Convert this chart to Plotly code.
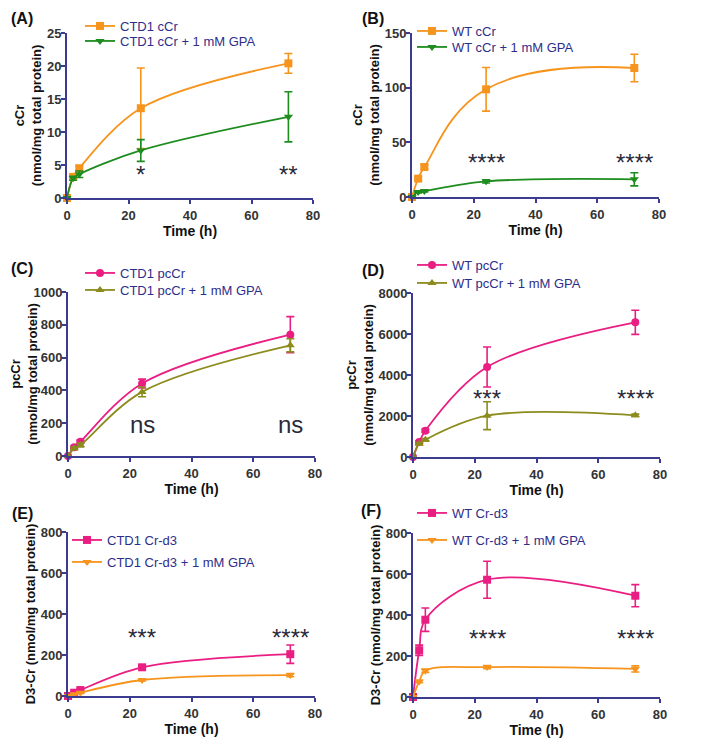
import plotly.graph_objects as go

# ---------------- data ----------------
time = [0, 2, 4, 24, 72]

# (A) CTD1 cCr
a_ctrl = [0, 3.2, 4.5, 13.6, 20.4]
a_ctrl_err = [0, 0.3, 0.4, 6.1, 1.5]
a_gpa = [0, 3.0, 3.6, 7.2, 12.3]
a_gpa_err = [0, 0.3, 0.5, 1.65, 3.8]

# (B) WT cCr
b_ctrl = [0, 16.8, 27.4, 98.5, 118]
b_ctrl_err = [0, 1.5, 2.0, 20, 12.6]
b_gpa = [0, 4.6, 5.5, 14.3, 16.2]
b_gpa_err = [0, 0.8, 0.8, 1.5, 6.0]

# (C) CTD1 pcCr
c_ctrl = [0, 53, 87, 442, 740]
c_ctrl_err = [0, 8, 10, 27, 110]
c_gpa = [0, 47, 67, 391, 675]
c_gpa_err = [0, 8, 12, 30, 40]

# (D) WT pcCr
d_ctrl = [0, 732, 1285, 4390, 6570]
d_ctrl_err = [0, 60, 80, 975, 590]
d_gpa = [0, 650, 846, 2016, 2033]
d_gpa_err = [0, 50, 60, 680, 60]

# (E) CTD1 Cr-d3
e_ctrl = [0, 16, 29, 140, 204]
e_ctrl_err = [0, 3, 4, 8, 45]
e_gpa = [0, 8, 16, 78, 102]
e_gpa_err = [0, 2, 3, 5, 8]

# (F) WT Cr-d3
f_ctrl = [0, 228, 377, 572, 494]
f_ctrl_err = [0, 25, 57, 90, 54]
f_gpa = [0, 76, 128, 146, 137]
f_gpa_err = [0, 6, 8, 8, 15]

# significance labels: (panel, x, y, text)
sig_labels = [
    ("A", 24, 3.6, "*"), ("A", 72, 3.6, "**"),
    ("B", 24, 32, "****"), ("B", 72, 32, "****"),
    ("C", 24, 193, "ns"), ("C", 72, 193, "ns"),
    ("D", 24, 2850, "***"), ("D", 72, 2850, "****"),
    ("E", 24, 284, "***"), ("E", 72, 284, "****"),
    ("F", 24, 284, "****"), ("F", 72, 284, "****"),
]

# ---------------- style ----------------
OFF = 8                      # page body margin
W, H = 709 - OFF, 741 - OFF
ORANGE = "#F7941D"
GREEN = "#1E8C1E"
PINK = "#EA1E82"
OLIVE = "#8C8C1E"
AXIS = "#3B3B8F"
LEG_TXT = "#2E2E8A"
TICK_TXT = "#333333"
FONT = "Liberation Sans, Arial, sans-serif"

panels = [
    dict(key="A", c=a_ctrl, ce=a_ctrl_err, g=a_gpa, ge=a_gpa_err,
         names=("CTD1 cCr", "CTD1 cCr + 1 mM GPA"), cols=(ORANGE, GREEN),
         syms=("square", "triangle-down"), yr=25, dt=5, sm=(1.0, 1.0),
         box=(67, 313, 33, 198), yt="cCr<br>(nmol/mg total protein)",
         lab=(22, 8), legx=80, legy=(26, 41)),
    dict(key="B", c=b_ctrl, ce=b_ctrl_err, g=b_gpa, ge=b_gpa_err,
         names=("WT cCr", "WT cCr + 1 mM GPA"), cols=(ORANGE, GREEN),
         syms=("square", "triangle-down"), yr=150, dt=50, sm=(1.3, 1.0),
         box=(412, 659, 33, 197), yt="cCr<br>(nmol/mg total protein)",
         lab=(373, 8), legx=412, legy=(31, 47)),
    dict(key="C", c=c_ctrl, ce=c_ctrl_err, g=c_gpa, ge=c_gpa_err,
         names=("CTD1 pcCr", "CTD1 pcCr + 1 mM GPA"), cols=(PINK, OLIVE),
         syms=("circle", "triangle-up"), yr=1000, dt=200, sm=(1.0, 1.0),
         box=(68, 315, 292, 456), yt="pcCr<br>(nmol/mg total protein)",
         lab=(22, 258), legx=80, legy=(273, 290)),
    dict(key="D", c=d_ctrl, ce=d_ctrl_err, g=d_gpa, ge=d_gpa_err,
         names=("WT pcCr", "WT pcCr + 1 mM GPA"), cols=(PINK, OLIVE),
         syms=("circle", "triangle-up"), yr=8000, dt=2000, sm=(1.0, 1.0),
         box=(413, 660, 293, 457), yt="pcCr<br>(nmol/mg total protein)",
         lab=(373, 260), legx=412, legy=(265, 283)),
    dict(key="E", c=e_ctrl, ce=e_ctrl_err, g=e_gpa, ge=e_gpa_err,
         names=("CTD1 Cr-d3", "CTD1 Cr-d3 + 1 mM GPA"), cols=(PINK, ORANGE),
         syms=("square", "triangle-down"), yr=800, dt=200, sm=(1.0, 1.0),
         box=(68, 315, 532, 696), yt="D3-Cr (nmol/mg total protein)",
         lab=(22, 503), legx=67, legy=(540, 562)),
    dict(key="F", c=f_ctrl, ce=f_ctrl_err, g=f_gpa, ge=f_gpa_err,
         names=("WT Cr-d3", "WT Cr-d3 + 1 mM GPA"), cols=(PINK, ORANGE),
         syms=("square", "triangle-down"), yr=800, dt=200, sm=(1.0, 1.0),
         box=(413, 660, 533, 697), yt="D3-Cr (nmol/mg total protein)",
         lab=(371, 500), legx=412, legy=(513, 540)),
]

fig = go.Figure()
layout = dict(width=W, height=H, margin=dict(l=0, r=0, t=0, b=0, autoexpand=False),
              plot_bgcolor="white", paper_bgcolor="white",
              font=dict(family=FONT), showlegend=True)
annotations = []


def px(x):
    return (x - OFF) / W


def py(y):
    return 1 - (y - OFF) / H


leg_count = 0
for i, p in enumerate(panels):
    n = i + 1
    xa = "x" if n == 1 else f"x{n}"
    ya = "y" if n == 1 else f"y{n}"
    x0, x1, yt, yb = p["box"]
    for j, (vals, errs, name, col, sym) in enumerate([
        (p["c"], p["ce"], p["names"][0], p["cols"][0], p["syms"][0]),
        (p["g"], p["ge"], p["names"][1], p["cols"][1], p["syms"][1]),
    ]):
        leg_count += 1
        lg = "legend" if leg_count == 1 else f"legend{leg_count}"
        fig.add_trace(go.Scatter(
            x=time, y=vals, name=name, mode="lines+markers",
            xaxis=xa, yaxis=ya, legend=lg, cliponaxis=False,
            line=dict(color=col, width=1.8, shape="spline", smoothing=p["sm"][j]),
            marker=dict(symbol=sym, size=8, color=col),
            error_y=dict(type="data", array=errs, color=col, thickness=1.6, width=4),
        ))
        layout[lg] = dict(
            x=px(p["legx"]), y=py(p["legy"][j]), xanchor="left", yanchor="middle",
            bgcolor="rgba(0,0,0,0)", borderwidth=0, itemwidth=30,
            font=dict(family=FONT, size=13, color=LEG_TXT),
        )
    axkey_x = "xaxis" if n == 1 else f"xaxis{n}"
    axkey_y = "yaxis" if n == 1 else f"yaxis{n}"
    layout[axkey_x] = dict(
        domain=[px(x0), px(x1)], anchor=ya, range=[0, 80], tickvals=[0, 20, 40, 60, 80],
        showline=True, linecolor=AXIS, linewidth=2, ticks="outside", ticklen=4,
        tickwidth=2, tickcolor=AXIS, showgrid=False, zeroline=False,
        tickfont=dict(family=FONT, size=13, color=TICK_TXT, weight="bold"),
        title=dict(text="Time (h)", standoff=3,
                   font=dict(family=FONT, size=14, color="#111111", weight="bold")),
    )
    layout[axkey_y] = dict(
        domain=[py(yb), py(yt)], anchor=xa, range=[0, p["yr"]], dtick=p["dt"],
        showline=True, linecolor=AXIS, linewidth=2, ticks="outside", ticklen=4,
        tickwidth=2, tickcolor=AXIS, showgrid=False, zeroline=False,
        ticklabelstandoff=-3,
        tickfont=dict(family=FONT, size=13, color=TICK_TXT, weight="bold"),
        title=dict(text=p["yt"], standoff=2,
                   font=dict(family=FONT, size=13, color="#111111", weight="bold")),
    )
    # panel label
    annotations.append(dict(
        text=f"<b>({p['key']})</b>", xref="paper", yref="paper",
        x=px(p["lab"][0]), y=min(py(p["lab"][1]), 1.0),
        xanchor="center", yanchor="top", showarrow=False,
        font=dict(family=FONT, size=16, color="#111111"),
    ))

key_to_n = {p["key"]: i + 1 for i, p in enumerate(panels)}
for key, sx, sy, txt in sig_labels:
    n = key_to_n[key]
    annotations.append(dict(
        text=txt, xref="x" if n == 1 else f"x{n}", yref="y" if n == 1 else f"y{n}",
        x=sx, y=sy, xanchor="center", yanchor="middle", showarrow=False,
        font=dict(family=FONT, size=24, color="#2A2A3A"),
    ))

layout["annotations"] = annotations
fig.update_layout(**layout)
fig.write_html("out.html")
